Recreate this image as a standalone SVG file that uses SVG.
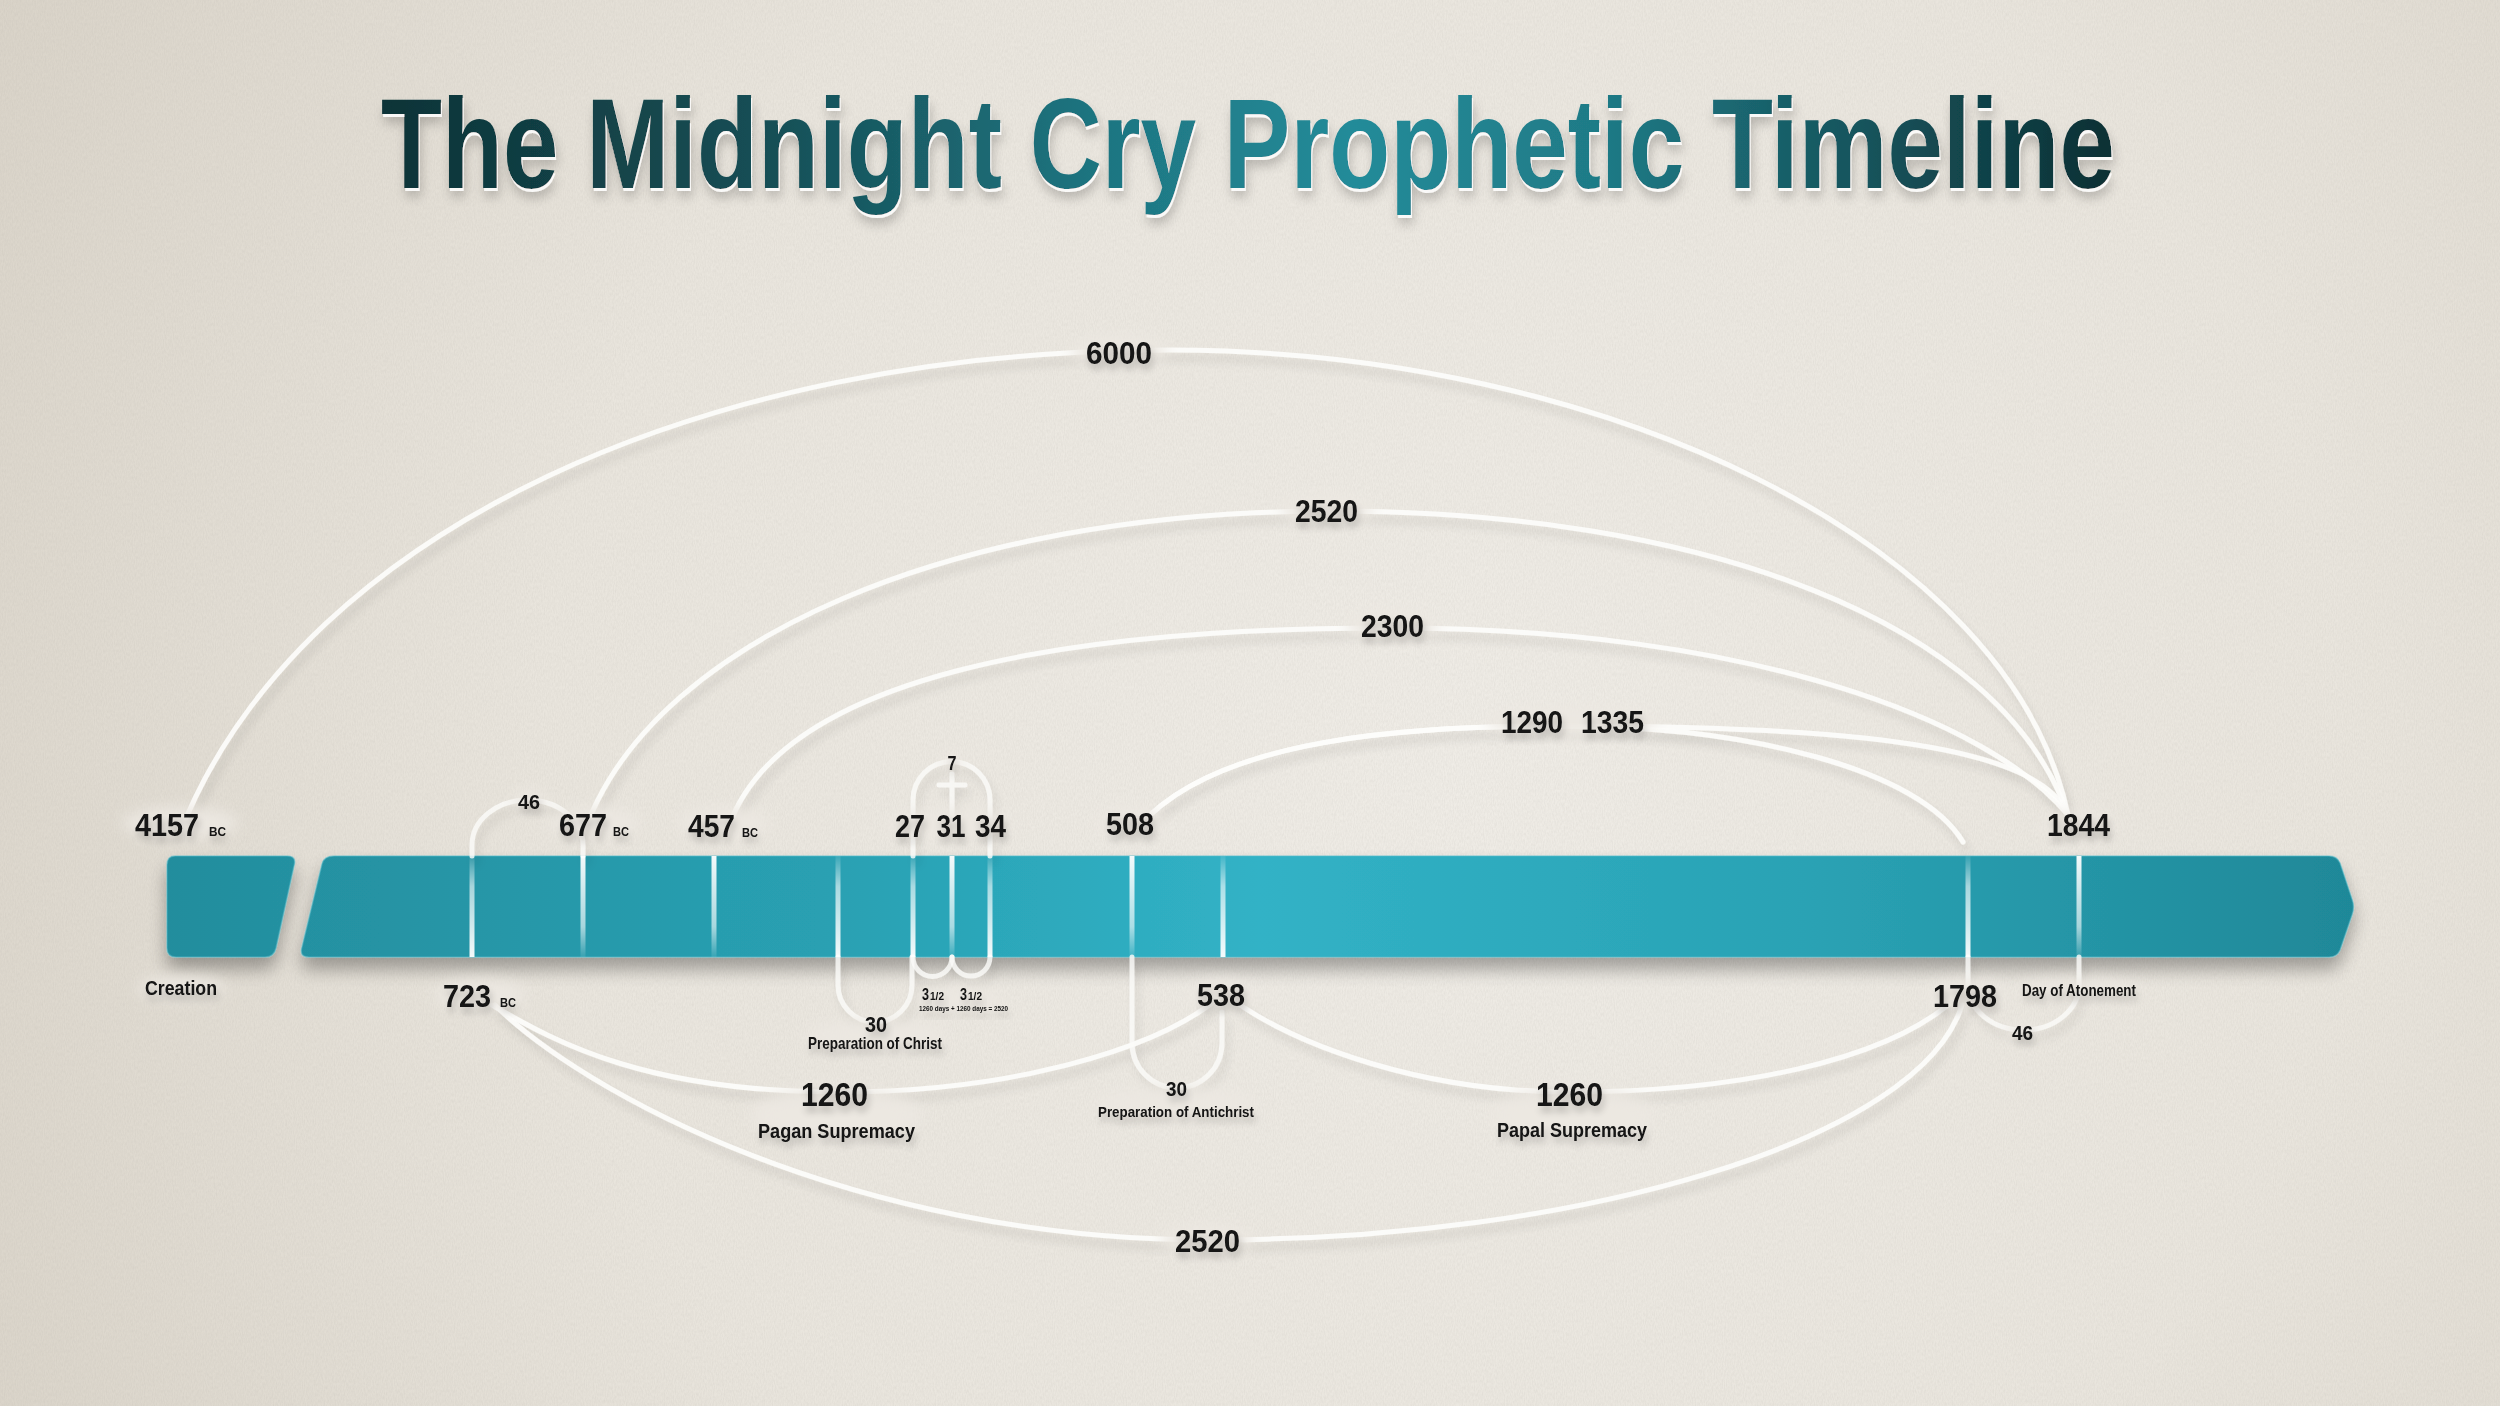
<svg xmlns="http://www.w3.org/2000/svg" width="2500" height="1406" viewBox="0 0 2500 1406">
<defs>
<radialGradient id="bg" cx="1450" cy="760" r="1650" gradientUnits="userSpaceOnUse">
<stop offset="0" stop-color="#efece6"/>
<stop offset="0.55" stop-color="#e9e5dd"/>
<stop offset="1" stop-color="#d9d3c8"/>
</radialGradient>
<filter id="linen" x="0" y="0" width="2500" height="1406" filterUnits="userSpaceOnUse">
<feTurbulence type="fractalNoise" baseFrequency="0.9 0.3" numOctaves="2" seed="4"/>
<feColorMatrix type="matrix" values="0 0 0 0 0.35  0 0 0 0 0.33  0 0 0 0 0.3  0.2 0 0 0 -0.06"/>
</filter>
<linearGradient id="title" x1="-1115" y1="0" x2="1115" y2="0" gradientUnits="userSpaceOnUse">
<stop offset="0" stop-color="#0e3337"/>
<stop offset="0.22" stop-color="#164e55"/>
<stop offset="0.42" stop-color="#1e7682"/>
<stop offset="0.56" stop-color="#248b99"/>
<stop offset="0.7" stop-color="#1f7b87"/>
<stop offset="0.86" stop-color="#15525a"/>
<stop offset="1" stop-color="#0c2f33"/>
</linearGradient>
<filter id="titleFx" x="0" y="0" width="2500" height="400" filterUnits="userSpaceOnUse">
<feOffset in="SourceAlpha" dx="1" dy="3" result="o"/>
<feFlood flood-color="#ffffff" flood-opacity="0.85"/>
<feComposite in2="o" operator="in" result="hl"/>
<feGaussianBlur in="SourceAlpha" stdDeviation="6" result="b"/>
<feOffset in="b" dx="2" dy="9" result="bo"/>
<feComponentTransfer in="bo" result="sh"><feFuncA type="linear" slope="0.22"/></feComponentTransfer>
<feMerge><feMergeNode in="sh"/><feMergeNode in="hl"/><feMergeNode in="SourceGraphic"/></feMerge>
</filter>
<linearGradient id="barG" x1="160" y1="0" x2="2360" y2="0" gradientUnits="userSpaceOnUse">
<stop offset="0" stop-color="#238d9d"/>
<stop offset="0.3" stop-color="#29a0b2"/>
<stop offset="0.5" stop-color="#31b2c6"/>
<stop offset="0.75" stop-color="#2aa2b4"/>
<stop offset="1" stop-color="#1f8898"/>
</linearGradient>
<filter id="barSh" x="0" y="0" width="2500" height="1406" filterUnits="userSpaceOnUse">
<feGaussianBlur in="SourceAlpha" stdDeviation="9" result="b"/>
<feOffset in="b" dx="0" dy="12" result="o"/>
<feComponentTransfer in="o" result="s"><feFuncA type="linear" slope="0.32"/></feComponentTransfer>
<feMerge><feMergeNode in="s"/><feMergeNode in="SourceGraphic"/></feMerge>
</filter>
<linearGradient id="tkTop" x1="0" y1="856" x2="0" y2="957" gradientUnits="userSpaceOnUse">
<stop offset="0" stop-color="#ffffff" stop-opacity="0.95"/>
<stop offset="0.7" stop-color="#ffffff" stop-opacity="0.6"/>
<stop offset="1" stop-color="#ffffff" stop-opacity="0.08"/>
</linearGradient>
<linearGradient id="tkBot" x1="0" y1="856" x2="0" y2="957" gradientUnits="userSpaceOnUse">
<stop offset="0" stop-color="#ffffff" stop-opacity="0.08"/>
<stop offset="0.3" stop-color="#ffffff" stop-opacity="0.6"/>
<stop offset="1" stop-color="#ffffff" stop-opacity="0.95"/>
</linearGradient>
<filter id="arcSh" x="0" y="0" width="2500" height="1406" filterUnits="userSpaceOnUse">
<feGaussianBlur in="SourceAlpha" stdDeviation="5" result="b"/>
<feOffset in="b" dx="4" dy="8" result="o"/>
<feComponentTransfer in="o" result="s"><feFuncA type="linear" slope="0.12"/></feComponentTransfer>
<feMerge><feMergeNode in="s"/><feMergeNode in="SourceGraphic"/></feMerge>
</filter>
<filter id="haloBlur" x="0" y="0" width="2500" height="1406" filterUnits="userSpaceOnUse">
<feGaussianBlur stdDeviation="7"/>
</filter>
<filter id="tsh" x="-30%" y="-50%" width="160%" height="220%">
<feGaussianBlur in="SourceAlpha" stdDeviation="3.5" result="b"/>
<feOffset in="b" dx="2" dy="6" result="o"/>
<feComponentTransfer in="o" result="s"><feFuncA type="linear" slope="0.22"/></feComponentTransfer>
<feMerge><feMergeNode in="s"/><feMergeNode in="SourceGraphic"/></feMerge>
</filter>
<style>
text{font-family:"Liberation Sans Narrow","Liberation Sans",Arial,sans-serif;font-weight:bold;fill:#121212;filter:url(#tsh)}
.big{font-size:32px}
.bc{font-size:13.5px}
.mid{font-size:21px}
.sm{font-size:16px}
.m{text-anchor:middle}
.arc{fill:none;stroke:#fdfdfb;stroke-width:5;stroke-opacity:0.93;stroke-linecap:round}
.loop{fill:none;stroke:#fbfbf9;stroke-width:5;stroke-opacity:0.82;stroke-linecap:round}
.tt{fill:url(#tkTop)}
.tb{fill:url(#tkBot)}
.halo{fill:#ece8e1;fill-opacity:0.95}
</style>
</defs>

<rect width="2500" height="1406" fill="url(#bg)"/>
<rect width="2500" height="1406" filter="url(#linen)" fill="#fff"/>

<g id="title" filter="url(#titleFx)">
<text transform="translate(1248,188) scale(0.78,1)" x="0" y="0" text-anchor="middle" font-size="128" style="fill:url(#title);filter:none">The Midnight Cry Prophetic Timeline</text>
</g>

<g id="timeline-bar" filter="url(#barSh)">
<path id="creation-block" d="M175,856 L287,856 Q297,856 294,866 L276,948 Q274,957 265,957 L176,957 Q167,957 167,948 L167,865 Q167,856 175,856 Z" fill="url(#barG)" stroke="#52bccb" stroke-opacity="0.5" stroke-width="1.5"/>
<path id="main-bar" d="M334,856 L2329,856 Q2337,856 2340,863 L2352,899 Q2355,907 2352,915 L2340,950 Q2337,957 2329,957 L309,957 Q299,957 302,947 L322,864 Q324,856 334,856 Z" fill="url(#barG)" stroke="#52bccb" stroke-opacity="0.5" stroke-width="1.5"/>
</g>

<g id="connectors" filter="url(#arcSh)">
<path id="arc-6000" class="arc" d="M186,818 C310,530 700,350 1170,350 C1600,350 2010,540 2068,815"/>
<path id="arc-2520-upper" class="arc" d="M588,822 C660,640 950,511 1330,511 C1700,511 2000,620 2068,815"/>
<path id="arc-2300" class="arc" d="M732,818 C790,680 1050,628 1390,628 C1750,628 1990,720 2068,815"/>
<path id="arc-1290" class="arc" d="M1150,815 C1230,740 1400,726 1560,726 C1750,726 1920,770 1963,842"/>
<path id="arc-1335" class="arc" d="M1150,815 C1230,740 1400,726 1560,726 C1850,726 2040,745 2068,815"/>
<path id="arc-1260-pagan" class="arc" d="M492,1005 C560,1045 650,1092 840,1092 C1010,1092 1150,1050 1212,1003"/>
<path id="arc-1260-papal" class="arc" d="M1240,1005 C1300,1045 1420,1092 1570,1092 C1740,1092 1880,1060 1948,1005"/>
<path id="arc-2520-lower" class="arc" d="M495,1005 C580,1090 850,1240 1210,1240 C1580,1240 1920,1140 1962,1005"/>
<path id="arc-46-upper" class="loop" d="M472,856 L472,845 A55.5,45 0 0 1 583,845 L583,856"/>
<path id="arc-46-lower" class="loop" d="M1968,957 L1968,985 A55.5,45 0 0 0 2079,985 L2079,957"/>
<path id="arc-7" class="loop" d="M913,856 L913,800 A38.5,38.5 0 0 1 990,800 L990,856"/>
<path id="cross" class="loop" d="M952,774 L952,822 M939,785 L965,785"/>
<path id="arc-3half-a" class="loop" d="M913,957 A19.5,19.5 0 0 0 952,957"/>
<path id="arc-3half-b" class="loop" d="M952,957 A19,19 0 0 0 990,957"/>
<path id="arc-30-christ" class="loop" d="M838,957 L838,985 A37,37 0 0 0 912,985 L912,957"/>
<path id="arc-30-antichrist" class="loop" d="M1132,957 L1132,1043 A45,45 0 0 0 1222,1043 L1222,1012"/>
</g>

<g id="halos" filter="url(#haloBlur)">
<ellipse class="halo" cx="180" cy="823" rx="58" ry="16"/>
<ellipse class="halo" cx="594" cy="823" rx="46" ry="16"/>
<ellipse class="halo" cx="723" cy="823" rx="46" ry="16"/>
<ellipse class="halo" cx="950" cy="824" rx="64" ry="15"/>
<ellipse class="halo" cx="1130" cy="823" rx="34" ry="16"/>
<ellipse class="halo" cx="2078" cy="825" rx="38" ry="13"/>
<ellipse class="halo" cx="529" cy="800" rx="16" ry="10"/>
<ellipse class="halo" cx="1119" cy="351" rx="48" ry="16"/>
<ellipse class="halo" cx="1327" cy="510" rx="46" ry="16"/>
<ellipse class="halo" cx="1392" cy="625" rx="46" ry="16"/>
<ellipse class="halo" cx="1572" cy="721" rx="86" ry="16"/>
<ellipse class="halo" cx="480" cy="995" rx="46" ry="15"/>
<ellipse class="halo" cx="1221" cy="995" rx="34" ry="15"/>
<ellipse class="halo" cx="1965" cy="995" rx="40" ry="15"/>
<ellipse class="halo" cx="2079" cy="990" rx="62" ry="10"/>
<ellipse class="halo" cx="2022" cy="1033" rx="15" ry="10"/>
<ellipse class="halo" cx="952" cy="762" rx="9" ry="9"/>
<ellipse class="halo" cx="876" cy="1036" rx="72" ry="16"/>
<ellipse class="halo" cx="958" cy="1000" rx="44" ry="13"/>
<ellipse class="halo" cx="1176" cy="1103" rx="82" ry="16"/>
<ellipse class="halo" cx="836" cy="1115" rx="86" ry="28"/>
<ellipse class="halo" cx="1572" cy="1115" rx="82" ry="28"/>
<ellipse class="halo" cx="1207" cy="1240" rx="46" ry="16"/>
<ellipse class="halo" cx="181" cy="988" rx="44" ry="12"/>
</g>

<g id="nodes">
<g id="node-4157bc">
<text class="big" x="135" y="836" textLength="64" lengthAdjust="spacingAndGlyphs">4157</text>
<text class="bc" x="209" y="836" textLength="17" lengthAdjust="spacingAndGlyphs">BC</text>
<text class="mid" x="145" y="995" font-size="22" textLength="72" lengthAdjust="spacingAndGlyphs">Creation</text>
</g>
<g id="node-723bc">
<rect class="tb" x="469.5" y="856" width="5" height="101"/>
<text class="big" x="443" y="1007" textLength="48" lengthAdjust="spacingAndGlyphs">723</text>
<text class="bc" x="500" y="1007" textLength="16" lengthAdjust="spacingAndGlyphs">BC</text>
</g>
<g id="node-46-upper">
<text class="mid" x="518" y="809" textLength="22" lengthAdjust="spacingAndGlyphs">46</text>
</g>
<g id="node-677bc">
<rect class="tt" x="580.5" y="856" width="5" height="101"/>
<text class="big" x="559" y="836" textLength="48" lengthAdjust="spacingAndGlyphs">677</text>
<text class="bc" x="613" y="836" textLength="16" lengthAdjust="spacingAndGlyphs">BC</text>
</g>
<g id="node-457bc">
<rect class="tt" x="711.5" y="856" width="5" height="101"/>
<text class="big" x="688" y="837" textLength="47" lengthAdjust="spacingAndGlyphs">457</text>
<text class="bc" x="742" y="837" textLength="16" lengthAdjust="spacingAndGlyphs">BC</text>
</g>
<g id="node-preparation-christ">
<rect class="tb" x="835.5" y="856" width="5" height="101"/>
<text class="m" x="876" y="1032" font-size="22" textLength="22" lengthAdjust="spacingAndGlyphs">30</text>
<text class="m" x="875" y="1049" font-size="17" textLength="134" lengthAdjust="spacingAndGlyphs">Preparation of Christ</text>
</g>
<g id="node-27">
<rect class="tb" x="910.5" y="856" width="5" height="101"/>
<text class="big m" x="910" y="837" textLength="30" lengthAdjust="spacingAndGlyphs">27</text>
</g>
<g id="node-31">
<rect class="tt" x="949.5" y="856" width="5" height="101"/>
<text class="big m" x="951" y="837" textLength="29" lengthAdjust="spacingAndGlyphs">31</text>
<text class="m" x="952" y="770" font-size="20" textLength="9" lengthAdjust="spacingAndGlyphs">7</text>
</g>
<g id="node-34">
<rect class="tb" x="987.5" y="856" width="5" height="101"/>
<text class="big m" x="990.5" y="837" textLength="31" lengthAdjust="spacingAndGlyphs">34</text>
</g>
<g id="node-half-weeks">
<text x="922" y="1000" font-size="17" textLength="7" lengthAdjust="spacingAndGlyphs">3</text>
<text x="930" y="1000" font-size="11" textLength="14" lengthAdjust="spacingAndGlyphs">1/2</text>
<text x="960" y="1000" font-size="17" textLength="7" lengthAdjust="spacingAndGlyphs">3</text>
<text x="968" y="1000" font-size="11" textLength="14" lengthAdjust="spacingAndGlyphs">1/2</text>
<text x="919" y="1011" font-size="8" textLength="89" lengthAdjust="spacingAndGlyphs">1260 days + 1260 days = 2520</text>
</g>
<g id="node-508">
<rect class="tt" x="1129.5" y="856" width="5" height="101"/>
<text class="big m" x="1130" y="835" textLength="48" lengthAdjust="spacingAndGlyphs">508</text>
</g>
<g id="node-538">
<rect class="tb" x="1220.5" y="856" width="5" height="101"/>
<text class="big m" x="1221" y="1006" textLength="48" lengthAdjust="spacingAndGlyphs">538</text>
</g>
<g id="node-preparation-antichrist">
<text class="m" x="1176.5" y="1096" font-size="20" textLength="21" lengthAdjust="spacingAndGlyphs">30</text>
<text class="m" x="1176" y="1117" font-size="15" textLength="156" lengthAdjust="spacingAndGlyphs">Preparation of Antichrist</text>
</g>
<g id="node-1798">
<rect class="tb" x="1965.5" y="856" width="5" height="101"/>
<text class="big m" x="1965" y="1007" textLength="64" lengthAdjust="spacingAndGlyphs">1798</text>
</g>
<g id="node-1844">
<rect class="tt" x="2076.5" y="856" width="5" height="101"/>
<text class="big m" x="2078.5" y="836" textLength="63" lengthAdjust="spacingAndGlyphs">1844</text>
<text class="sm" x="2022" y="996" textLength="114" lengthAdjust="spacingAndGlyphs">Day of Atonement</text>
</g>
<g id="node-46-lower">
<text class="mid" x="2012" y="1040" textLength="21" lengthAdjust="spacingAndGlyphs">46</text>
</g>
<g id="label-6000">
<text class="big m" x="1119" y="364" textLength="66" lengthAdjust="spacingAndGlyphs">6000</text>
</g>
<g id="label-2520-upper">
<text class="big m" x="1326.5" y="522" textLength="63" lengthAdjust="spacingAndGlyphs">2520</text>
</g>
<g id="label-2300">
<text class="big m" x="1392.5" y="637" textLength="63" lengthAdjust="spacingAndGlyphs">2300</text>
</g>
<g id="label-1290-1335">
<text class="big" x="1501" y="733" textLength="62" lengthAdjust="spacingAndGlyphs">1290</text>
<text class="big" x="1581" y="733" textLength="63" lengthAdjust="spacingAndGlyphs">1335</text>
</g>
<g id="label-pagan">
<text class="m" x="834.5" y="1106" font-size="33" textLength="67" lengthAdjust="spacingAndGlyphs">1260</text>
<text class="mid m" x="836.5" y="1138" textLength="157" lengthAdjust="spacingAndGlyphs">Pagan Supremacy</text>
</g>
<g id="label-papal">
<text class="m" x="1569.5" y="1106" font-size="33" textLength="67" lengthAdjust="spacingAndGlyphs">1260</text>
<text class="mid m" x="1572" y="1137" textLength="150" lengthAdjust="spacingAndGlyphs">Papal Supremacy</text>
</g>
<g id="label-2520-lower">
<text class="big m" x="1207.5" y="1252" textLength="65" lengthAdjust="spacingAndGlyphs">2520</text>
</g>
</g>
</svg>
